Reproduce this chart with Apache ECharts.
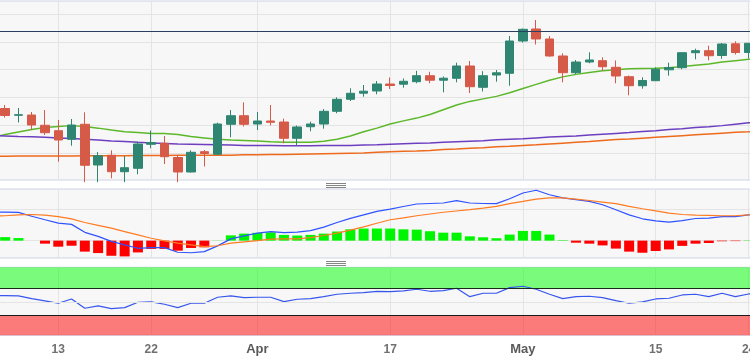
<!DOCTYPE html>
<html><head><meta charset="utf-8">
<script src="https://cdn.jsdelivr.net/npm/echarts@6/dist/echarts.min.js"></script>
<style>html,body{margin:0;padding:0;background:#fff}#c{width:750px;height:362px}</style>
</head><body><div id="c"></div>
<script>
const dates = ['2023-03-06','2023-03-07','2023-03-08','2023-03-09','2023-03-10',
'2023-03-13','2023-03-14','2023-03-15','2023-03-16','2023-03-17',
'2023-03-20','2023-03-21','2023-03-22','2023-03-23','2023-03-24',
'2023-03-27','2023-03-28','2023-03-29','2023-03-30','2023-03-31',
'2023-04-03','2023-04-04','2023-04-05','2023-04-06','2023-04-07',
'2023-04-10','2023-04-11','2023-04-12','2023-04-13','2023-04-14',
'2023-04-17','2023-04-18','2023-04-19','2023-04-20','2023-04-21',
'2023-04-24','2023-04-25','2023-04-26','2023-04-27','2023-04-28',
'2023-05-01','2023-05-02','2023-05-03','2023-05-04','2023-05-05',
'2023-05-08','2023-05-09','2023-05-10','2023-05-11','2023-05-12',
'2023-05-15','2023-05-16','2023-05-17','2023-05-18','2023-05-19',
'2023-05-22','2023-05-23','2023-05-24','2023-05-25'];

const tickDates = ['2023-03-13','2023-03-22','2023-04-03','2023-04-17','2023-05-01','2023-05-15','2023-05-24'];
const tickLabels = ['13','22','Apr','17','May','15','24'];
const monthLabels = ['Apr','May'];

const opens = [null,162.605,162.361,162.371,162.002,161.808,161.499,162.038,160.576,160.925,160.336,160.458,161.320,161.356,160.846,160.325,161.054,160.961,162.038,162.346,162.048,162.156,162.120,161.535,161.951,162.048,162.504,162.935,163.154,163.233,163.484,163.477,163.567,163.782,163.621,163.689,164.131,163.366,163.807,163.869,165.028,165.459,165.100,164.490,163.890,164.274,164.321,164.084,163.746,163.423,163.603,163.994,164.070,164.608,164.680,164.508,164.928,164.615,null];
const closes = [null,162.354,162.382,162.012,161.736,161.474,162.012,160.566,160.910,160.336,160.480,161.330,161.384,160.874,160.325,161.032,160.989,162.048,162.346,162.038,162.156,162.109,161.535,161.941,162.048,162.504,162.935,163.151,163.226,163.484,163.431,163.581,163.782,163.621,163.693,164.131,163.387,163.782,163.886,165.028,165.448,165.100,164.490,163.890,164.274,164.346,164.105,163.772,163.423,163.610,164.012,164.077,164.608,164.680,164.500,164.920,164.615,164.946,null];
const lows = [null,162.282,162.102,161.851,161.653,160.695,161.269,159.960,159.960,160.099,159.960,160.243,161.176,160.612,159.960,160.307,160.523,160.935,161.571,161.959,161.833,161.995,161.356,161.277,161.786,161.880,162.433,162.874,163.028,163.115,163.305,163.352,163.510,163.510,163.186,163.545,163.161,163.215,163.567,163.423,164.974,164.902,164.464,163.545,163.843,164.228,163.958,163.510,163.079,163.316,163.599,163.782,164.012,164.371,164.335,164.389,164.543,164.407,null];
const highs = [null,162.730,162.623,162.479,162.551,162.192,162.228,162.468,161.043,161.104,160.900,161.413,161.815,161.618,160.935,161.104,161.115,162.095,162.551,162.827,162.479,162.730,162.239,161.995,162.131,162.587,163.007,163.330,163.448,163.592,163.718,163.682,163.958,163.922,163.754,164.249,164.310,163.944,163.987,165.208,165.477,165.782,165.208,164.587,164.346,164.622,164.443,164.328,163.790,163.725,164.084,164.249,164.622,164.752,164.859,164.956,165.017,164.956,null];

const maFast = [161.55,161.67,161.76,161.85,161.92,161.96,161.99,161.96,161.90,161.83,161.77,161.74,161.71,161.71,161.67,161.60,161.55,161.50,161.47,161.46,161.44,161.41,161.39,161.39,161.39,161.43,161.50,161.62,161.77,161.90,162.05,162.16,162.26,162.39,162.56,162.73,162.86,162.95,163.04,163.17,163.32,163.47,163.62,163.74,163.83,163.90,163.96,164.00,164.03,164.04,164.05,164.07,164.11,164.16,164.20,164.27,164.32,164.37,164.42];
const maMid = [161.64,161.62,161.60,161.59,161.57,161.55,161.53,161.50,161.47,161.44,161.42,161.39,161.37,161.35,161.33,161.32,161.31,161.30,161.29,161.28,161.28,161.28,161.27,161.27,161.27,161.28,161.28,161.28,161.29,161.30,161.32,161.34,161.36,161.37,161.39,161.41,161.43,161.45,161.48,161.50,161.52,161.55,161.58,161.60,161.62,161.65,161.68,161.71,161.74,161.78,161.81,161.85,161.88,161.92,161.95,161.99,162.04,162.09,162.14];
const maSlow = [160.89,160.89,160.90,160.90,160.90,160.90,160.90,160.91,160.91,160.91,160.91,160.92,160.92,160.92,160.93,160.93,160.93,160.93,160.93,160.94,160.94,160.95,160.95,160.96,160.97,160.98,160.99,161.00,161.01,161.03,161.05,161.07,161.08,161.10,161.13,161.15,161.18,161.20,161.23,161.25,161.28,161.30,161.33,161.36,161.39,161.42,161.46,161.49,161.51,161.54,161.57,161.60,161.63,161.66,161.69,161.72,161.75,161.77,161.80];
const resistance = 165.376;

const macdHist = [null,0.022,0.016,0,-0.019,-0.038,-0.032,-0.069,-0.078,-0.095,-0.099,-0.074,-0.052,-0.052,-0.063,-0.046,-0.042,0.001,0.033,0.044,0.049,0.052,0.036,0.032,0.036,0.044,0.057,0.071,0.076,0.076,0.076,0.071,0.069,0.059,0.050,0.050,0.027,0.021,0.015,0.038,0.061,0.061,0.038,0.003,-0.013,-0.019,-0.030,-0.050,-0.069,-0.076,-0.065,-0.055,-0.033,-0.019,-0.015,-0.004,-0.003,0.002,null];
const macdLine = [0.179,0.179,0.177,0.153,0.131,0.110,0.102,0.052,0.027,-0.005,-0.027,-0.048,-0.044,-0.044,-0.073,-0.076,-0.069,-0.033,0.011,0.030,0.047,0.057,0.050,0.053,0.063,0.085,0.114,0.140,0.162,0.184,0.198,0.214,0.230,0.233,0.236,0.251,0.236,0.233,0.232,0.263,0.299,0.316,0.288,0.268,0.257,0.246,0.225,0.194,0.162,0.137,0.124,0.116,0.126,0.139,0.141,0.151,0.151,0.162,0.165];
const signalLine = [0.154,0.156,0.162,0.164,0.160,0.151,0.137,0.114,0.096,0.078,0.057,0.036,0.015,-0.002,-0.016,-0.027,-0.038,-0.032,-0.016,-0.008,0,0.009,0.011,0.011,0.019,0.032,0.047,0.066,0.086,0.109,0.131,0.143,0.156,0.167,0.178,0.186,0.194,0.204,0.215,0.232,0.246,0.261,0.268,0.268,0.261,0.252,0.242,0.232,0.215,0.200,0.187,0.173,0.164,0.160,0.158,0.156,0.156,0.162,0.165];

const rsi = [59.7,59.4,58.9,54.8,51.3,47.8,54.3,40.2,43.7,39.6,41.1,49.3,49.8,46.3,41.1,47.8,47.8,56.9,58.9,56.3,56.9,56.9,50.2,53.9,54.8,57.8,61.5,63.0,63.9,66.0,65.4,66.5,69.1,66.0,67.0,70.6,57.8,63.0,63.0,71.5,73.7,69.1,61.5,54.8,57.8,58.4,56.3,51.7,47.8,49.8,54.3,55.4,60.4,61.5,57.8,63.0,57.8,61.9,61.9];
const rsiUpper = 70, rsiMid = 50, rsiLower = 30;

const candleData = opens.map((o, i) => o == null ? '-' : [o, closes[i], lows[i], highs[i]]);
const tickIdx = new Set(tickDates.map(d => dates.indexOf(d)));
const labelMap = {};
tickDates.forEach((d, i) => labelMap[d] = tickLabels[i]);

const GRID_BG = '#f7f7f7', BORDER = '#cdd3e2', SPLIT = '#e4e4e4';
const gridBase = {left: -8.1, width: 770, show: true, backgroundColor: GRID_BG, borderColor: BORDER, borderWidth: 1, containLabel: false, outerBoundsMode: 'none'};

const xAxes = [0, 1, 2].map(g => ({
  type: 'category', gridIndex: g, data: dates, boundaryGap: false,
  axisLine: {show: false}, axisTick: {show: false},
  axisLabel: {
    show: g === 2, interval: 0, margin: 8, color: '#707070', fontSize: 12,
    fontFamily: 'Liberation Sans, Arial, sans-serif', fontWeight: 'bold',
    formatter: v => {
      const t = labelMap[v];
      if (!t) return '';
      return monthLabels.includes(t) ? '{m|' + t + '}' : t;
    },
    rich: {m: {fontWeight: 'bold', color: '#5a5a5a', fontSize: 13, fontFamily: 'Liberation Sans, Arial, sans-serif'}}
  },
  splitLine: {show: true, interval: (i) => tickIdx.has(i), lineStyle: {color: SPLIT, width: 1}}
}));

const option = {
  animation: false,
  backgroundColor: '#ffffff',
  grid: [
    Object.assign({}, gridBase, {top: 1, height: 179}),
    Object.assign({}, gridBase, {top: 189, height: 69}),
    Object.assign({}, gridBase, {top: 267.3, height: 68})
  ],
  xAxis: xAxes,
  yAxis: [
    {type: 'value', gridIndex: 0, min: 160.038, max: 166.464, axisLine: {show: false}, axisTick: {show: false}, axisLabel: {show: false},
     splitLine: {show: true, showMinLine: false, showMaxLine: false, lineStyle: {color: SPLIT}}},
    {type: 'value', gridIndex: 1, min: -0.109, max: 0.324, splitNumber: 2, axisLine: {show: false}, axisTick: {show: false}, axisLabel: {show: false},
     splitLine: {show: true, showMinLine: false, showMaxLine: false, lineStyle: {color: SPLIT}}},
    {type: 'value', gridIndex: 2, min: -1, max: 102.5, axisLine: {show: false}, axisTick: {show: false}, axisLabel: {show: false},
     splitLine: {show: false}}
  ],
  graphic: [
    {type: 'group', silent: true, children: [0, 2, 4].map(d => ({type: 'line', shape: {x1: 326, y1: 183.5 + d, x2: 346, y2: 183.5 + d}, style: {stroke: '#858585', lineWidth: 1}}))},
    {type: 'group', silent: true, children: [0, 2, 4].map(d => ({type: 'line', shape: {x1: 326, y1: 261.5 + d, x2: 346, y2: 261.5 + d}, style: {stroke: '#858585', lineWidth: 1}}))}
  ],
  series: [
    {type: 'line', name: 'MA fast', xAxisIndex: 0, yAxisIndex: 0, data: maFast, showSymbol: false, z: 2,
     lineStyle: {color: '#5cb82a', width: 1.5}},
    {type: 'line', name: 'MA mid', xAxisIndex: 0, yAxisIndex: 0, data: maMid, showSymbol: false, z: 2,
     lineStyle: {color: '#6d3fc0', width: 1.5}},
    {type: 'line', name: 'MA slow', xAxisIndex: 0, yAxisIndex: 0, data: maSlow, showSymbol: false, z: 2,
     lineStyle: {color: '#ee6a1c', width: 1.5}},
    {type: 'candlestick', name: 'Price', xAxisIndex: 0, yAxisIndex: 0, data: candleData, barWidth: 9, z: 3,
     itemStyle: {color: '#2e8571', color0: '#d65a48', borderColor: '#2e8571', borderColor0: '#d65a48', borderWidth: 1},
     markLine: {silent: true, symbol: 'none', label: {show: false}, animation: false,
       lineStyle: {color: '#2b3f61', width: 1, type: 'solid'}, data: [{yAxis: resistance}]}},
    {type: 'bar', name: 'Histogram', xAxisIndex: 1, yAxisIndex: 1, data: macdHist, barWidth: 10, z: 2,
     itemStyle: {color: p => (p.value >= 0 ? '#00f500' : '#ff0000')}},
    {type: 'line', name: 'MACD', xAxisIndex: 1, yAxisIndex: 1, data: macdLine, showSymbol: false, z: 3,
     lineStyle: {color: '#2f52ff', width: 1.2}},
    {type: 'line', name: 'Signal', xAxisIndex: 1, yAxisIndex: 1, data: signalLine, showSymbol: false, z: 3,
     lineStyle: {color: '#ff7b22', width: 1.2}},
    {type: 'line', name: 'RSI', xAxisIndex: 2, yAxisIndex: 2, data: rsi, showSymbol: false, z: 3,
     lineStyle: {color: '#3656ee', width: 1.2},
     markArea: {silent: true, data: [
       [{yAxis: rsiUpper, itemStyle: {color: 'rgba(0,255,0,0.5)'}}, {yAxis: 102.5}],
       [{yAxis: -1, itemStyle: {color: 'rgba(255,0,0,0.5)'}}, {yAxis: rsiLower}]
     ]},
     markLine: {silent: true, symbol: 'none', label: {show: false}, animation: false, data: [
       {yAxis: rsiUpper, lineStyle: {color: '#1a2a1a', width: 1, type: 'solid'}},
       {yAxis: rsiMid, lineStyle: {color: SPLIT, width: 1, type: 'solid'}},
       {yAxis: rsiLower, lineStyle: {color: '#1a1a1a', width: 1, type: 'solid'}}
     ]}}
  ]
};
const chart = echarts.init(document.getElementById('c'), null, {renderer: 'canvas'});
chart.setOption(option);
</script>
</body></html>
